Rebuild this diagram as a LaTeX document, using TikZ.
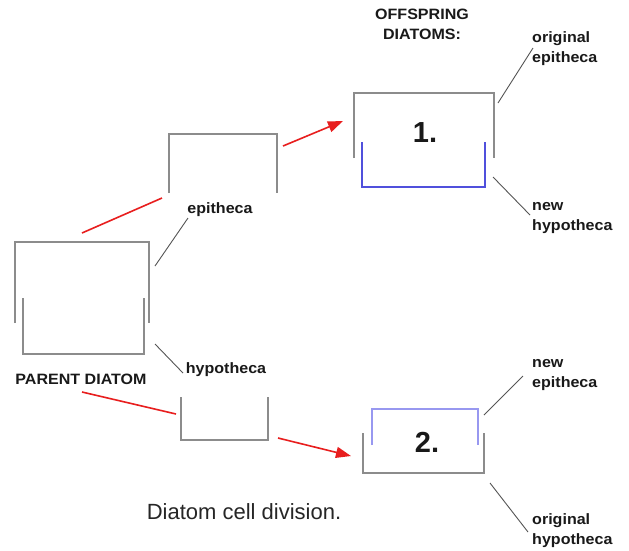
\documentclass[tikz,border=0pt]{standalone}
\usepackage{fontspec}
\setmainfont{Liberation Sans}
\usetikzlibrary{arrows.meta}
\definecolor{valvegray}{HTML}{8C8C8C}
\definecolor{newblue}{HTML}{5050DC}
\definecolor{paleblue}{HTML}{9898F0}
\definecolor{movered}{HTML}{E81E1E}
\definecolor{leadgray}{HTML}{555555}
\begin{document}
\begin{tikzpicture}[x=1pt,y=-1pt,
  valve/.style={draw=valvegray,line width=2pt},
  newvalve/.style={draw=newblue,line width=2pt},
  palevalve/.style={draw=paleblue,line width=2pt},
  move/.style={draw=movered,line width=1.6pt},
  movearrow/.style={move,-{Triangle[length=15pt,width=11pt]}},
  leader/.style={draw=leadgray,line width=0.9pt},
  lbl/.style={font=\fontsize{15}{20}\selectfont\bfseries,inner sep=0pt,xscale=1.07,text=black!90},
  lbll/.style={lbl,anchor=west,align=left},
  num/.style={font=\fontsize{29}{32}\selectfont\bfseries,inner sep=0pt,text=black!90},
  caption/.style={font=\fontsize{22}{26}\selectfont,inner sep=0pt,text=black!85}]
\useasboundingbox[fill=white] (0,0) rectangle (629,550);

% parent diatom: epitheca over hypotheca
\draw[valve] (15,323) -- (15,242) -- (149,242) -- (149,323);
\draw[valve] (23,298) -- (23,354) -- (144,354) -- (144,298);
\node[lbl] (parent) at (81,379) {PARENT DIATOM};

% separated valves
\draw[valve] (169,193) -- (169,134) -- (277,134) -- (277,193);
\node[lbl] (epi) at (220,210) {epitheca};
\draw[valve] (181,397) -- (181,440) -- (268,440) -- (268,397);
\node[lbl] (hypo) at (226,370) {hypotheca};

% offspring 1: original epitheca with new hypotheca
\node[lbl,align=center] (offspring) at (422,24) {OFFSPRING\\DIATOMS:};
\draw[valve] (354,158) -- (354,93) -- (494,93) -- (494,158);
\draw[newvalve] (362,142) -- (362,187) -- (485,187) -- (485,142);
\node[num] (one) at (425,133) {1.};

% offspring 2: new epitheca over original hypotheca
\draw[palevalve] (372,445) -- (372,409) -- (478,409) -- (478,445);
\draw[valve] (363,433) -- (363,473) -- (484,473) -- (484,433);
\node[num] (two) at (427,442) {2.};

% outer labels
\node[lbll] (origepi) at (532,49) {original\\epitheca};
\node[lbll] (newhypo) at (532,218) {new\\hypotheca};
\node[lbll] (newepi) at (532,375) {new\\epitheca};
\node[lbll] (orighypo) at (532,531) {original\\hypotheca};
\node[caption] (cap) at (244,512) {Diatom cell division.};

% leader lines
\coordinate (epiT) at (155,266);
\coordinate (hypoT) at (155,344);
\coordinate (origepiT) at (498,103);
\coordinate (newhypoT) at (493,177);
\coordinate (newepiT) at (484,415);
\coordinate (orighypoT) at (490,483);
\draw[leader] (epiT) -- (188,218);
\draw[leader] (hypoT) -- (183,373);
\draw[leader] (origepiT) -- (533,48);
\draw[leader] (newhypoT) -- (530,215);
\draw[leader] (newepiT) -- (523,376);
\draw[leader] (orighypoT) -- (528,532);

% movement of the valves
\coordinate (a1) at (82,233);
\coordinate (a2) at (162,198);
\coordinate (b1) at (283,146);
\coordinate (b2) at (343,121);
\coordinate (c1) at (82,392);
\coordinate (c2) at (176,414);
\coordinate (d1) at (278,438);
\coordinate (d2) at (351,456);
\draw[move] (a1) -- (a2);
\draw[movearrow] (b1) -- (b2);
\draw[move] (c1) -- (c2);
\draw[movearrow] (d1) -- (d2);
\end{tikzpicture}
\end{document}
